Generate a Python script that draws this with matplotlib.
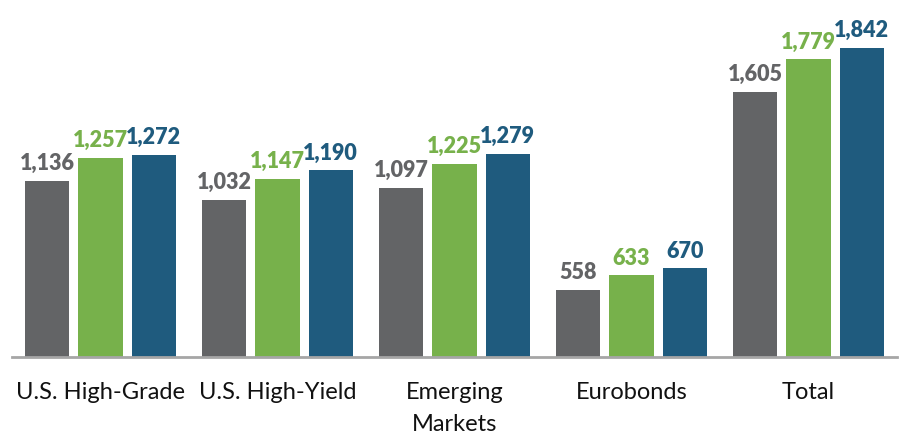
import matplotlib.pyplot as plt
import numpy as np

categories = ['U.S. High-Grade', 'U.S. High-Yield', 'Emerging\nMarkets', 'Eurobonds', 'Total']
series_a = [1136, 1032, 1097, 558, 1605]
series_b = [1257, 1147, 1225, 633, 1779]
series_c = [1272, 1190, 1279, 670, 1842]

colors = ['#636466', '#77B14B', '#1F5B7E']

plt.rcParams['font.family'] = ['Lato', 'DejaVu Sans']

fig = plt.figure(figsize=(8.99, 4.35), dpi=100)
ax = fig.add_axes([0.0133, 0.177, 0.9845, 0.823])

x = np.arange(len(categories))
w = 0.249
off = 0.3
for i, (vals, c) in enumerate(zip([series_a, series_b, series_c], colors)):
    pos = x + (i - 1) * off
    ax.bar(pos, vals, width=w, color=c)
    for p, v in zip(pos, vals):
        ax.text(p, v + 42, f'{v:,}', ha='center', va='bottom', color=c,
                fontsize=15.5, fontweight='heavy')

ax.set_xlim(-0.5, 4.5)
ax.set_ylim(200, 2100)
ax.set_xticks(x)
ax.set_xticklabels(categories, fontsize=17, color='#111111', linespacing=1.65)
ax.tick_params(axis='x', length=0, pad=17)
ax.set_yticks([])
for s in ['top', 'right', 'left']:
    ax.spines[s].set_visible(False)
ax.spines['bottom'].set_color('#A6A6A6')
ax.spines['bottom'].set_linewidth(2)

fig.savefig('out.png', dpi=100)
